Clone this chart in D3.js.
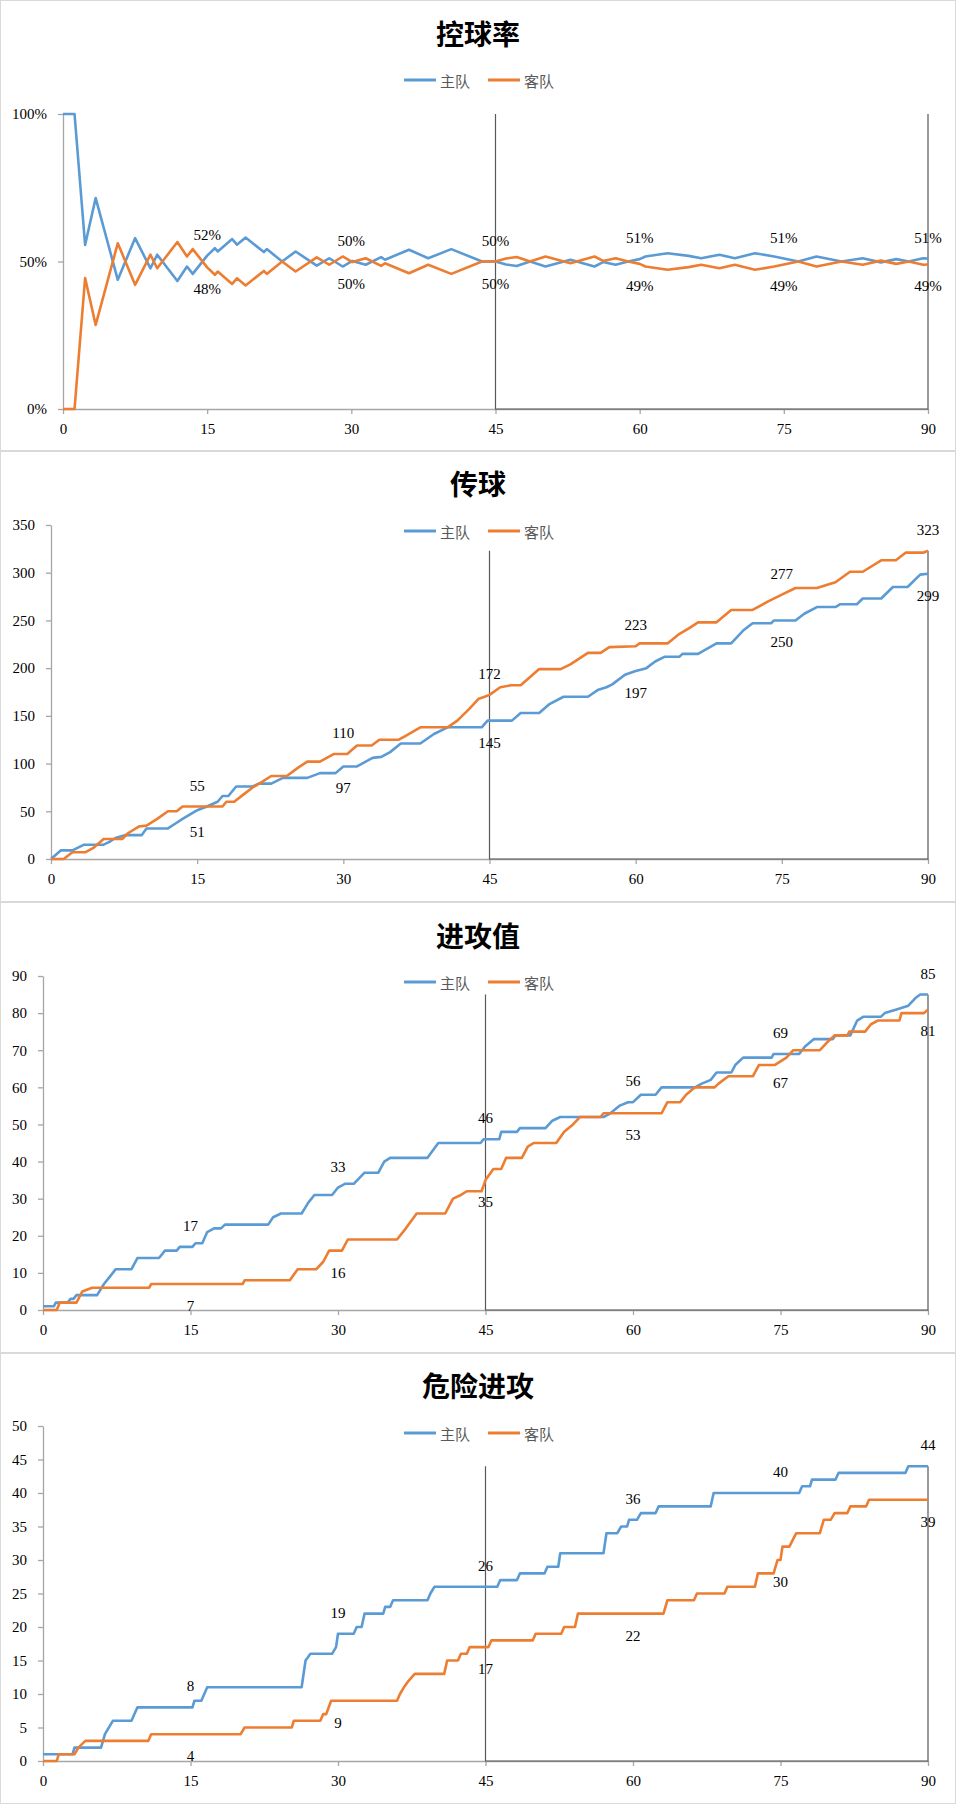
<!DOCTYPE html>
<html lang="zh">
<head>
<meta charset="UTF-8">
<script src="https://d3js.org/d3.v7.min.js"></script>
<title>比赛数据</title>
<style>
  body { margin: 0; background: #fff; }
  svg { display: block; }
</style>
</head>
<body>
<svg id="chart" width="956" height="1804"></svg>
<script>
  // ---- data (minute, value) ----
  const seriesNames = ["主队", "客队"];
  const xTicks = [0, 15, 30, 45, 60, 75, 90];
  const labelMinutes = [15, 30, 45, 60, 75, 90];

  // 控球率 (%)
  const possHome = [[0,100],[1.2,100],[2.3,55.6],[3.4,71.5],[5.7,43.8],[7.5,57.9],[9.1,47.7],[9.8,52.3],[11.9,43.4],[12.9,48.3],[13.5,45.8],[15,52],[15.8,54.5],[16.1,53.4],[17.6,57.6],[18.1,55.7],[19,58.1],[20.9,53.2],[21.2,54.2],[22.8,50],[24.2,53.4],[26.4,48.6],[27.7,51.1],[29.1,48.3],[30.1,50.2],[31.5,48.9],[33.1,51.5],[33.5,50.6],[36,54],[38,51.1],[40.4,54.2],[43.6,50],[45,50],[46.1,49],[47.2,48.5],[48.6,50],[50.2,48.3],[52.8,50.6],[55.3,48.3],[56.2,49.8],[57.5,48.9],[58.8,50],[60,50.8],[60.6,51.7],[62.9,52.8],[65.1,51.9],[66.4,51.1],[68.3,52.3],[69.9,51.1],[72,52.8],[74,51.7],[76.5,50],[78.4,51.7],[81,50],[83.2,51.1],[85.1,49.7],[86.7,50.8],[88,50],[89.5,51.1],[90,51]];
  const possAway = [[0,0],[1.2,0],[2.3,44.4],[3.4,28.5],[5.7,56.2],[7.5,42.1],[9.1,52.3],[9.8,47.7],[11.9,56.6],[12.9,51.7],[13.5,54.2],[15,48],[15.8,45.5],[16.1,46.6],[17.6,42.4],[18.1,44.3],[19,41.9],[20.9,46.8],[21.2,45.8],[22.8,50],[24.2,46.6],[26.4,51.4],[27.7,48.9],[29.1,51.7],[30.1,49.8],[31.5,51.1],[33.1,48.5],[33.5,49.4],[36,46],[38,48.9],[40.4,45.8],[43.6,50],[45,50],[46.1,51],[47.2,51.5],[48.6,50],[50.2,51.7],[52.8,49.4],[55.3,51.7],[56.2,50.2],[57.5,51.1],[58.8,50],[60,49.2],[60.6,48.3],[62.9,47.2],[65.1,48.1],[66.4,48.9],[68.3,47.7],[69.9,48.9],[72,47.2],[74,48.3],[76.5,50],[78.4,48.3],[81,50],[83.2,48.9],[85.1,50.3],[86.7,49.2],[88,50],[89.5,48.9],[90,49]];
  const possHomeLabels = [52, 50, 50, 51, 51, 51];
  const possAwayLabels = [48, 50, 50, 49, 49, 49];
  const possTicks = [0, 50, 100];

  // 传球
  const passHome = [[0,0],[1,9],[2.2,9],[3.4,15],[5.4,15],[6,18],[6.6,22],[7.6,25],[9.3,25],[9.8,32],[12,32],[12.9,38],[13.5,42],[14.8,50],[15,51],[16,55],[17.1,60],[17.6,66],[18.2,66],[19,76],[20.7,76],[21.3,79],[22.6,79],[23.8,85],[26.3,85],[27.6,90],[29.2,90],[30,97],[31.4,97],[32.3,102],[33,106],[33.9,107],[34.8,112],[35.9,121],[37.9,121],[39.3,131],[40.7,138],[44.2,138],[44.8,145],[47.3,145],[48.2,153],[50.1,153],[51.1,162],[52.6,170],[55.1,170],[56.1,177],[57,180],[57.6,183],[58.9,193],[60,197],[61.1,200],[62,207],[63,212],[64.5,212],[64.8,215],[66.4,215],[68.3,226],[69.8,226],[71.1,240],[72,247],[73.9,247],[74.2,250],[76.4,250],[77.3,257],[78.6,264],[80.5,264],[81,267],[82.7,267],[83.3,273],[85.2,273],[86.4,285],[87.9,285],[89.2,298],[90,299]];
  const passAway = [[0,0],[1.3,0],[2.2,7],[3.5,7],[4.4,12],[5.4,21],[7.3,21],[7.9,27],[9,34],[9.8,35],[10.9,42],[12,50],[12.9,50],[13.5,55],[17.6,55],[18,60],[18.8,60],[19.8,68],[20.7,75],[21.7,81],[22.6,87],[24.2,87],[25.4,96],[26.3,102],[27.6,102],[29,110],[30.4,110],[31.4,119],[32.9,119],[33.7,125],[35.7,125],[36.4,129],[37.9,138],[40.7,138],[41.7,145],[42.9,157],[43.9,168],[44.5,170],[45,172],[46.1,180],[47.2,182],[48.2,182],[50.1,199],[52.3,199],[53.3,204],[55.1,216],[56.4,216],[57.3,222],[60,223],[60.4,226],[63.3,226],[64.5,236],[65.5,242],[66.4,248],[68.3,248],[69.8,261],[72,261],[73.6,270],[75,277],[76.4,284],[78.6,284],[80.5,290],[82,301],[83.3,301],[85.2,313],[86.7,313],[87.7,321],[89.5,321],[90,323]];
  const passHomeLabels = [51, 97, 145, 197, 250, 299];
  const passAwayLabels = [55, 110, 172, 223, 277, 323];
  const passTicks = [0, 50, 100, 150, 200, 250, 300, 350];

  // 进攻值
  const attHome = [[0,1],[1.1,1],[1.3,2],[2.5,2],[2.8,3],[3.1,3],[3.4,4],[5.5,4],[6.2,7],[6.8,9],[7.4,11],[9,11],[9.6,14],[11.8,14],[12.4,16],[13.6,16],[13.9,17],[15.2,17],[15.5,18],[16.2,18],[16.7,21],[17.4,22],[18.1,22],[18.5,23],[22.9,23],[23.4,25],[24.2,26],[26.3,26],[27,29],[27.6,31],[29.4,31],[30,33],[30.7,34],[31.6,34],[32.7,37],[34.1,37],[34.7,40],[35.3,41],[39.1,41],[40.2,45],[44.5,45],[44.8,46],[46.4,46],[46.6,48],[48.2,48],[48.5,49],[51.1,49],[51.8,51],[52.6,52],[57,52],[57.7,53],[58.6,55],[59.5,56],[60,56],[60.8,58],[62.3,58],[62.9,60],[66.3,60],[67,61],[67.9,62],[68.5,64],[70,64],[70.4,66],[71.2,68],[74.1,68],[74.3,69],[76.9,69],[77.5,71],[78.4,73],[80.3,73],[80.6,74],[82.1,74],[82.8,78],[83.4,79],[85.2,79],[85.6,80],[86.8,81],[88,82],[88.7,84],[89.2,85],[90,85]];
  const attAway = [[0,0],[1.4,0],[1.7,2],[3.4,2],[4,5],[5,6],[10.8,6],[11,7],[20.3,7],[20.5,8],[25.1,8],[25.9,11],[27.8,11],[28.5,13],[29.1,16],[30.4,16],[31,19],[36,19],[36.9,22],[38,26],[40.9,26],[41.7,30],[42.5,31],[43.1,32],[44.6,32],[45,35],[45.8,38],[46.6,38],[47.1,41],[48.7,41],[49.3,44],[49.9,45],[52.2,45],[53,48],[53.9,50],[54.6,52],[56.7,52],[57,53],[62.9,53],[63.5,56],[64.8,56],[65.4,58],[66.3,60],[68.3,60],[68.7,61],[69.7,63],[72.2,63],[72.8,66],[74.4,66],[75,67],[75.6,68],[76.3,70],[79,70],[79.7,72],[80.5,74],[81.8,74],[82,75],[83.6,75],[84.2,77],[84.9,78],[87.1,78],[87.3,80],[89.6,80],[90,81]];
  const attHomeLabels = [17, 33, 46, 56, 69, 85];
  const attAwayLabels = [7, 16, 35, 53, 67, 81];
  const attTicks = [0, 10, 20, 30, 40, 50, 60, 70, 80, 90];

  // 危险进攻
  const dangHome = [[0,1],[3,1],[3.2,2],[5.9,2],[6.3,4],[7.1,6],[9,6],[9.3,7],[9.6,8],[15.2,8],[15.4,9],[16.1,9],[16.7,11],[26.3,11],[26.7,15],[27.2,16],[29.4,16],[29.8,17],[30,19],[31.6,19],[31.9,20],[32.4,20],[32.7,22],[34.6,22],[34.8,23],[35.3,23],[35.6,24],[39.1,24],[39.4,25],[39.8,26],[46.2,26],[46.5,27],[48.2,27],[48.5,28],[51,28],[51.3,29],[52.4,29],[52.6,31],[57,31],[57.3,34],[58.4,34],[58.8,35],[59.4,35],[59.6,36],[60.4,36],[60.8,37],[62.3,37],[62.6,38],[67.9,38],[68.2,40],[76.9,40],[77.2,41],[78,41],[78.2,42],[80.6,42],[80.9,43],[87.7,43],[88,44],[90,44]];
  const dangAway = [[0,0],[1.4,0],[1.6,1],[3.2,1],[3.6,2],[4.3,3],[10.7,3],[11,4],[20.1,4],[20.5,5],[25.3,5],[25.5,6],[28.2,6],[28.5,7],[28.8,7],[29.3,9],[36,9],[36.3,10],[36.7,11],[37.2,12],[37.8,13],[40.8,13],[41.1,15],[42.2,15],[42.5,16],[43.1,16],[43.4,17],[45.3,17],[45.6,18],[49.8,18],[50.1,19],[52.7,19],[53,20],[54.1,20],[54.4,22],[63.1,22],[63.5,24],[66.2,24],[66.5,25],[69.3,25],[69.6,26],[72.4,26],[72.7,28],[74.3,28],[74.7,30],[75,30],[75.2,32],[75.9,32],[76.6,34],[79,34],[79.4,36],[80.1,36],[80.5,37],[81.8,37],[82.1,38],[83.7,38],[84,39],[90,39]];
  const dangHomeLabels = [8, 19, 26, 36, 40, 44];
  const dangAwayLabels = [4, 9, 17, 22, 30, 39];
  const dangTicks = [0, 5, 10, 15, 20, 25, 30, 35, 40, 45, 50];

  // ---- layout ----
  const colors = ["#5B9BD5", "#ED7D31"];
  const charts = [
    { title: "控球率", home: possHome, away: possAway, homeLab: possHomeLabels, awayLab: possAwayLabels,
      ticks: possTicks, yMax: 100, pct: true, homeAbove: true,
      top: 0, titleY: 33, legendY: 80, left: 63, plotTop: 114, plotBottom: 409 },
    { title: "传球", home: passHome, away: passAway, homeLab: passHomeLabels, awayLab: passAwayLabels,
      ticks: passTicks, yMax: 350, pct: false, homeAbove: false,
      top: 451, titleY: 483, legendY: 531, left: 51, plotTop: 525, plotBottom: 859 },
    { title: "进攻值", home: attHome, away: attAway, homeLab: attHomeLabels, awayLab: attAwayLabels,
      ticks: attTicks, yMax: 90, pct: false, homeAbove: true,
      top: 902, titleY: 935, legendY: 982, left: 43, plotTop: 976, plotBottom: 1310 },
    { title: "危险进攻", home: dangHome, away: dangAway, homeLab: dangHomeLabels, awayLab: dangAwayLabels,
      ticks: dangTicks, yMax: 50, pct: false, homeAbove: true,
      top: 1353, titleY: 1385, legendY: 1433, left: 43, plotTop: 1426, plotBottom: 1761 }
  ];
  const plotRight = 928;
  const numFont = "'Liberation Serif', 'Times New Roman', serif";
  const cjkFont = "'Noto Sans CJK SC', sans-serif";

  const svg = d3.select("#chart");

  charts.forEach(c => {
    const g = svg.append("g");

    // panel frame
    g.append("rect")
      .attr("x", 0.5).attr("y", c.top + 0.5)
      .attr("width", 955).attr("height", 450)
      .attr("fill", "#fff").attr("stroke", "#D9D9D9");

    g.append("text")
      .attr("x", 478).attr("y", c.titleY)
      .attr("text-anchor", "middle").attr("dominant-baseline", "central")
      .style("font-family", cjkFont).style("font-size", "28px").style("font-weight", "bold")
      .text(c.title);

    const x = d3.scaleLinear().domain([0, 90]).range([c.left, plotRight]);
    const y = d3.scaleLinear().domain([0, c.yMax]).range([c.plotBottom, c.plotTop]);

    // axes
    const xAxis = g.append("g")
      .attr("transform", `translate(0,${c.plotBottom})`)
      .call(d3.axisBottom(x).tickValues(xTicks).tickSize(5).tickPadding(9).tickSizeOuter(0));
    const yAxis = g.append("g")
      .attr("transform", `translate(${c.left},0)`)
      .call(d3.axisLeft(y).tickValues(c.ticks).tickSize(5).tickPadding(11).tickSizeOuter(0)
        .tickFormat(d => c.pct ? d + "%" : d));
    [xAxis, yAxis].forEach(a => {
      a.select(".domain").attr("stroke", "#A6A6A6").attr("stroke-width", 1.3);
      a.selectAll(".tick line").attr("stroke", "#A6A6A6").attr("stroke-width", 1.3);
      a.selectAll(".tick text").attr("fill", "#000")
        .style("font-family", numFont).style("font-size", "15px");
    });

    const line = d3.line().x(d => x(d[0])).y(d => y(d[1]));

    // half / full time marker
    const top = c.pct ? c.yMax : d3.max(c.home.concat(c.away), d => d[1]);
    g.append("path")
      .attr("d", line([[45, top], [45, 0], [90, 0], [90, top]]))
      .attr("fill", "none").attr("stroke", "#595959").attr("stroke-width", 1.2);

    [c.home, c.away].forEach((s, i) => {
      g.append("path")
        .attr("d", line(s))
        .attr("fill", "none")
        .attr("stroke", colors[i])
        .attr("stroke-width", 2.6)
        .attr("stroke-linejoin", "round");
    });

    // data labels
    const labelSets = [
      { vals: c.homeLab, above: c.homeAbove },
      { vals: c.awayLab, above: !c.homeAbove }
    ];
    labelSets.forEach(ls => {
      g.selectAll(null)
        .data(labelMinutes.map((m, k) => [m, ls.vals[k]]))
        .join("text")
        .attr("x", d => x(d[0]))
        .attr("y", d => y(d[1]) + (ls.above ? -21 : 22))
        .attr("text-anchor", "middle").attr("dominant-baseline", "central")
        .style("font-family", numFont).style("font-size", "15px")
        .text(d => c.pct ? d[1] + "%" : d[1]);
    });

    // legend
    const lg = g.append("g").attr("transform", `translate(404,${c.legendY})`);
    seriesNames.forEach((n, i) => {
      const ox = i * 84;
      lg.append("line")
        .attr("x1", ox).attr("x2", ox + 32).attr("y1", 0).attr("y2", 0)
        .attr("stroke", colors[i]).attr("stroke-width", 3);
      lg.append("text")
        .attr("x", ox + 36).attr("y", 0)
        .attr("dominant-baseline", "central")
        .attr("fill", "#595959")
        .style("font-family", cjkFont).style("font-size", "15px")
        .text(n);
    });
  });
</script>
</body>
</html>
